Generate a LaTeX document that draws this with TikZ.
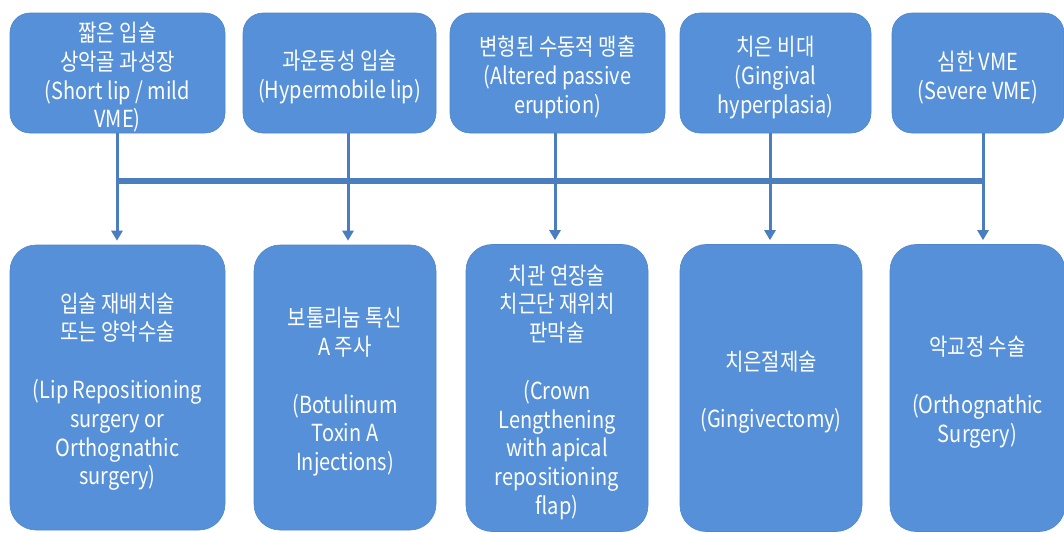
\documentclass[tikz,border=0pt]{standalone}
\usepackage{fontspec}
\setmainfont[FakeStretch=0.85]{Noto Sans CJK KR}
\usetikzlibrary{arrows.meta}
\definecolor{boxblue}{HTML}{5590D8}
\definecolor{boxedge}{HTML}{4F86CC}
\definecolor{linkblue}{HTML}{4A7EBE}
% extra height on the first line pushes each text block slightly down
\newcommand\headroom{\rule{0pt}{28pt}}
\tikzset{
  cause/.style={rectangle, rounded corners=20pt, fill=boxblue, draw=boxedge, line width=0.6pt,
    text=white, align=center, inner sep=0pt,
    font=\fontsize{23.5}{28.8}\selectfont},
  remedy/.style={cause, rounded corners=26pt},
  bus/.style={draw=linkblue, line width=6pt},
  feed/.style={draw=linkblue, line width=3pt, -{Triangle[width=11pt,length=10pt]}, shorten >=4pt},
}
\begin{document}
\begin{tikzpicture}[x=1pt, y=-1pt]
\useasboundingbox (0,0) rectangle (1064,533);

% conditions (top row)
\node[cause, minimum width=215pt, minimum height=120pt] (t1) at (117.5,73)
  {\headroom 짧은 입술\\상악골 과성장\\(Short lip / mild\\VME)};
\node[cause, minimum width=193pt, minimum height=120pt] (t2) at (339.5,73)
  {\headroom 과운동성 입술\\(Hypermobile lip)};
\node[cause, minimum width=215pt, minimum height=120pt] (t3) at (557.5,73)
  {\headroom 변형된 수동적 맹출\\(Altered passive\\eruption)};
\node[cause, minimum width=191pt, minimum height=120pt] (t4) at (775.5,73)
  {\headroom 치은 비대\\(Gingival\\hyperplasia)};
\node[cause, minimum width=172pt, minimum height=120pt] (t5) at (978,73)
  {\headroom 심한 VME\\(Severe VME)};

% treatments (bottom row)
\node[remedy, minimum width=215pt, minimum height=285pt] (b1) at (117.5,387.5)
  {\headroom 입술 재배치술\\또는 양악수술\\[28.8pt](Lip Repositioning\\surgery or\\Orthognathic\\surgery)};
\node[remedy, minimum width=182pt, minimum height=285pt] (b2) at (345,387.5)
  {\headroom 보툴리눔 톡신\\A 주사\\[28.8pt](Botulinum\\Toxin A\\Injections)};
\node[remedy, minimum width=182pt, minimum height=287pt] (b3) at (557,388)
  {\headroom 치관 연장술\\치근단 재위치\\판막술\\[28.8pt](Crown\\Lengthening\\with apical\\repositioning\\flap)};
\node[remedy, minimum width=182pt, minimum height=287pt] (b4) at (771,388)
  {\headroom 치은절제술\\[28.8pt](Gingivectomy)};
\node[remedy, minimum width=175pt, minimum height=287pt] (b5) at (977.5,388)
  {\headroom 악교정 수술\\[28.8pt](Orthognathic\\Surgery)};

% column positions of the feed lines
\coordinate (c1) at (117,181);
\coordinate (c2) at (348,181);
\coordinate (c3) at (555,181);
\coordinate (c4) at (770,181);
\coordinate (c5) at (983,181);

% horizontal bus
\draw[bus] (c1) -- (c5);

% feed lines with arrows
\draw[feed] (t1.south -| c1) -- (b1.north -| c1);
\draw[feed] (t2.south -| c2) -- (b2.north -| c2);
\draw[feed] (t3.south -| c3) -- (b3.north -| c3);
\draw[feed] (t4.south -| c4) -- (b4.north -| c4);
\draw[feed] (t5.south -| c5) -- (b5.north -| c5);
\end{tikzpicture}
\end{document}
